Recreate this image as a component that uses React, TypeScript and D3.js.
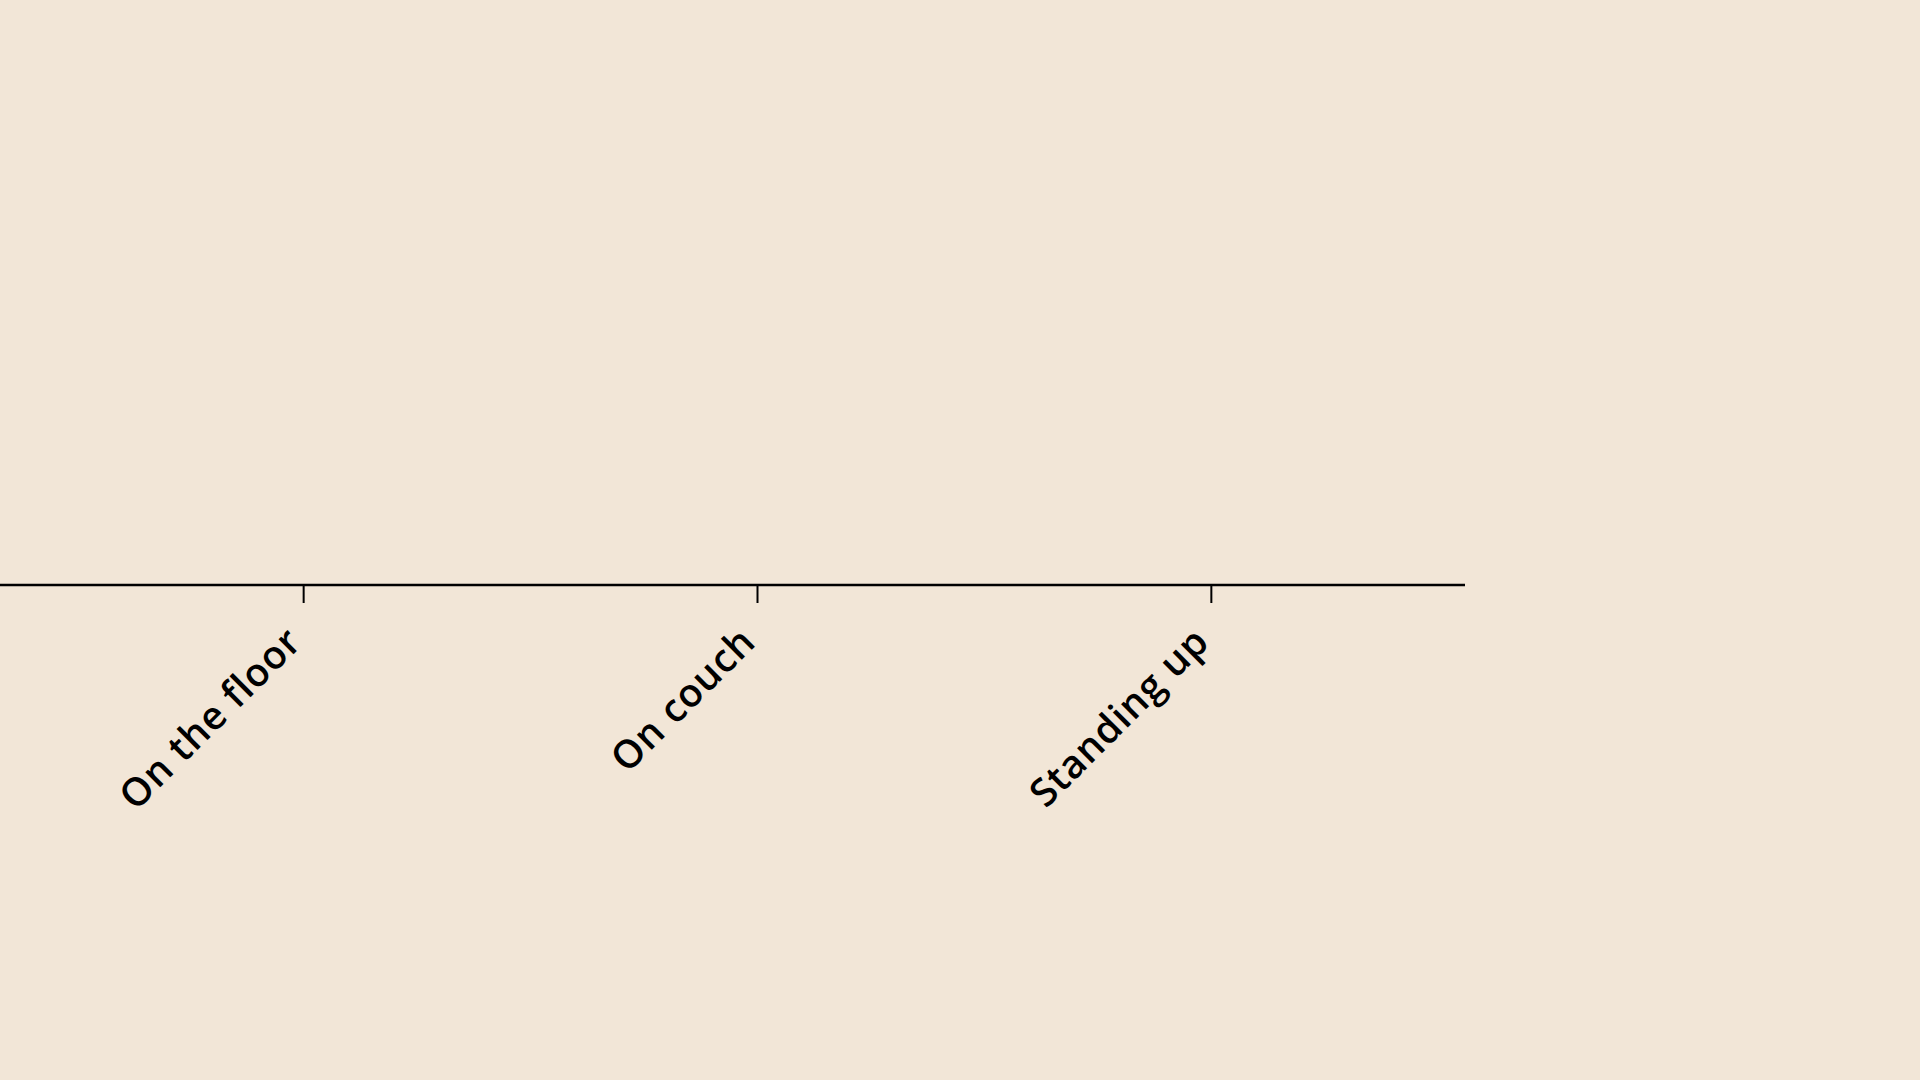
import { useEffect, useRef } from "react";
import * as d3 from "d3";

// categories on the x axis
const categories = ["On the floor", "On couch", "Standing up"];
// tick labels as shown
const tickLabels = ["On the floor", "On couch", "Standing up"];

const W = 1920;
const H = 1080;

export default function App() {
    const svgEl = useRef<SVGSVGElement>(null);

    useEffect(() => {
        document.body.style.margin = "0";
        document.body.style.background = "#f2e6d7";
        const svg = d3.select(svgEl.current);
        svg.selectChildren().remove();

        svg.append("rect")
            .attr("width", W)
            .attr("height", H)
            .attr("fill", "#f2e6d7");

        const x = d3.scalePoint<string>()
            .domain(categories)
            .range([49, 1465])
            .padding(0.56);

        const axis = d3.axisBottom(x)
            .tickSize(18)
            .tickSizeOuter(0)
            .tickFormat((d, i) => tickLabels[i]);

        const g = svg.append("g")
            .attr("transform", "translate(0,585)")
            .call(axis);

        // axis line runs on past the left edge
        g.select(".domain")
            .attr("d", "M0,0H1465")
            .attr("stroke", "#000")
            .attr("stroke-width", 2.5);

        g.selectAll(".tick line")
            .attr("stroke", "#000")
            .attr("stroke-width", 2);

        g.selectAll(".tick text")
            .attr("fill", "#000")
            .attr("font-family", "'Open Sans', sans-serif")
            .attr("font-weight", 600)
            .attr("font-size", 39)
            .attr("letter-spacing", 0.8)
            .attr("text-anchor", "end")
            .attr("y", 0)
            .attr("dy", 0)
            .attr("transform", "translate(0,59) rotate(-45)");
    }, []);

    return <svg ref={svgEl} width={W} height={H} style={{ display: "block" }}></svg>;
}
